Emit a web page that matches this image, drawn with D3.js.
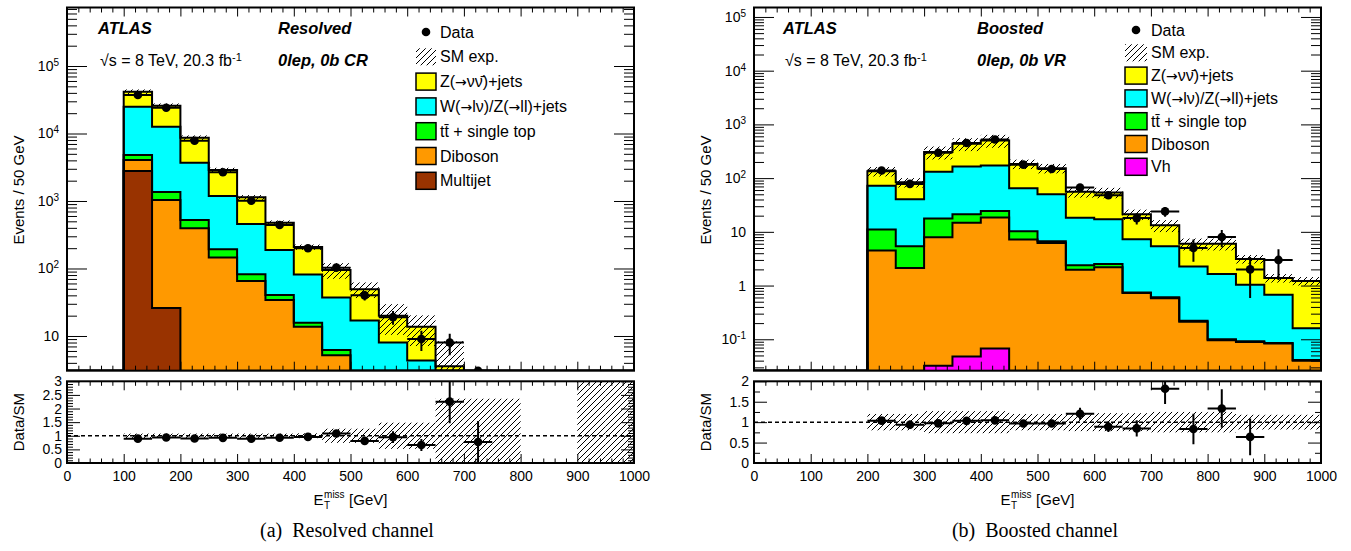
<!DOCTYPE html>
<html>
<head>
<meta charset="utf-8">
<script src="https://cdn.jsdelivr.net/npm/d3@7"></script>
<style>
  body { margin: 0; background: #fff; }
  svg { display: block; font-family: "Liberation Sans", Arial, sans-serif; }
  .caption { font-family: "Liberation Serif", "Times New Roman", serif; font-size: 20px; white-space: pre; }
</style>
</head>
<body>
<svg id="chart" width="1351" height="551"></svg>
<script>
// ---- values (events per 50 GeV bin) ----
const binWidth = 50;

// (a) Resolved channel, 0lep 0b CR  -- bin lower edges
const resolvedBins     = [100, 150, 200, 250, 300, 350, 400, 450, 500, 550, 600, 650, 700, 750, 800, 850, 900, 950];
const resolvedMultijet = [2780, 26, 0, 0, 0, 0, 0, 0, 0, 0, 0, 0, 0, 0, 0, 0, 0, 0];
const resolvedDiboson  = [1270, 1010, 394, 146, 65, 34, 13.7, 5.2, 2.6, 1.3, 0.6, 0.3, 0.17, 0.05, 0, 0, 0.004, 0.004];
const resolvedTop      = [750, 325, 129, 46, 17, 6.5, 2.0, 1.0, 0.4, 0.3, 0.15, 0.05, 0.03, 0.01, 0, 0, 0.002, 0.002];
const resolvedWZ       = [20100, 11240, 3177, 994, 374, 147.5, 66, 31, 14, 6.4, 3.6, 1.3, 0.5, 0.2, 0, 0, 0.002, 0.002];
const resolvedZnn      = [16700, 13200, 4970, 1694, 677, 289, 126, 58, 32.3, 12, 9.3, 1.9, 0.6, 0.25, 0, 0, 0.002, 0.002];
const resolvedData     = [37200, 24100, 7820, 2660, 1010, 441, 199, 103, 40, 19, 9, 8, 1, 0, 0, 0, 0, 0];
const resolvedUnc      = [0.08, 0.08, 0.08, 0.08, 0.08, 0.08, 0.09, 0.26, 0.26, 0.48, 0.48, 1.36, 1.36, 1.36, 0, 0, 3, 3];

// (b) Boosted channel, 0lep 0b VR
const boostedBins    = [200, 250, 300, 350, 400, 450, 500, 550, 600, 650, 700, 750, 800, 850, 900, 950];
const boostedVh      = [0.005, 0.005, 0.032, 0.048, 0.067, 0.015, 0.01, 0.005, 0.005, 0.003, 0.003, 0.002, 0.001, 0.001, 0.001, 0.001];
const boostedDiboson = [4.5, 2.12, 7.92, 14.75, 18.33, 7.19, 6.19, 1.97, 2.18, 0.72, 0.58, 0.21, 0.095, 0.088, 0.082, 0.039];
const boostedTop     = [6.6, 3.28, 9.85, 6.4, 6.0, 3.1, 0.5, 0.4, 0.34, 0.02, 0.02, 0.01, 0.004, 0.003, 0.002, 0.001];
const boostedWZ      = [60.9, 35.1, 114.2, 142.8, 146.6, 54.7, 43.6, 16.0, 14.6, 6.5, 4.8, 2.05, 1.54, 0.94, 0.59, 0.12];
const boostedZnn     = [62, 42.9, 173, 272, 332, 119, 102.7, 37.2, 36.9, 14.0, 7.8, 3.73, 4.36, 2.1, 0.71, 1.06];
const boostedData    = [139, 78, 296, 450, 525, 178, 148, 67, 48, 18, 24, 5, 8, 2, 3, 0];
const boostedUnc     = [0.2, 0.2, 0.27, 0.27, 0.27, 0.2, 0.2, 0.22, 0.22, 0.22, 0.25, 0.25, 0.25, 0.18, 0.18, 0.18];

const colors = {
  znn: '#ffff00', wz: '#00ffff', top: '#00ff00', diboson: '#ff9900', multijet: '#993300', vh: '#ff00ff'
};

// ---- layout ----
const MAIN_TOP = 7.5, MAIN_BOT = 370.7, RATIO_TOP = 381.3, RATIO_BOT = 463;

const svg = d3.select('#chart');
const defs = svg.append('defs');
defs.append('pattern')
    .attr('id', 'hatch').attr('patternUnits', 'userSpaceOnUse')
    .attr('width', 6).attr('height', 6)
  .append('path')
    .attr('d', 'M-1,1 l2,-2 M0,6 l6,-6 M5,7 l2,-2')
    .attr('stroke', '#000').attr('stroke-width', 1);

function tickAxis(parent, axis, tx, ty) {
  const a = parent.append('g').attr('transform', `translate(${tx},${ty})`).call(axis);
  a.select('.domain').remove();
  a.attr('font-family', null).attr('font-size', null);
  a.selectAll('.tick line').attr('stroke-width', 1);
  return a;
}

// write a label, putting arrows in a font with a proper wide arrow
function richText(sel, label) {
  label.split('\u2192').forEach((part, i) => {
    if (i > 0) sel.append('tspan').attr('font-family', '"DejaVu Sans"').attr('font-size', 14).text('\u2192');
    sel.append('tspan').text(part);
  });
}

function drawPanel(p) {
  const x = d3.scaleLinear([0, 1000], [p.left, p.right]);
  const y = d3.scaleLog(p.yDomain, [MAIN_BOT, MAIN_TOP]).clamp(true);
  const yr = d3.scaleLinear(p.ratioDomain, [RATIO_BOT, RATIO_TOP]).clamp(true);
  const floor = p.yDomain[0] * 0.1;
  const g = svg.append('g');

  defs.append('clipPath').attr('id', 'cm' + p.id).append('rect')
      .attr('x', p.left).attr('y', MAIN_TOP).attr('width', p.right - p.left).attr('height', MAIN_BOT - MAIN_TOP);
  defs.append('clipPath').attr('id', 'cr' + p.id).append('rect')
      .attr('x', p.left).attr('y', RATIO_TOP).attr('width', p.right - p.left).attr('height', RATIO_BOT - RATIO_TOP);

  // stacked histogram
  const rows = p.bins.map((b, i) => {
    const r = { low: b };
    p.layers.forEach(l => r[l.key] = l.values[i]);
    return r;
  });
  const stacked = d3.stack().keys(p.layers.map(l => l.key))(rows);
  const totals = rows.map(r => d3.sum(p.layers, l => r[l.key]));

  const area = d3.area()
      .x(d => x(d.x))
      .y0(d => y(Math.max(d.y0, floor)))
      .y1(d => y(Math.max(d.y1, floor)));
  const line = d3.line().x(d => x(d.x)).y(d => y(Math.max(d.y, floor)));

  const gm = g.append('g').attr('clip-path', `url(#cm${p.id})`);
  stacked.forEach((s, li) => {
    const pts = s.flatMap(d => [
      { x: d.data.low, y0: d[0], y1: d[1] },
      { x: d.data.low + binWidth, y0: d[0], y1: d[1] }
    ]);
    gm.append('path').attr('d', area(pts)).attr('fill', p.layers[li].color);
  });
  stacked.forEach(s => {
    const last = s[s.length - 1].data.low + binWidth;
    const pts = [{ x: 0, y: 0 }, { x: s[0].data.low, y: 0 }]
      .concat(s.flatMap(d => [{ x: d.data.low, y: d[1] }, { x: d.data.low + binWidth, y: d[1] }]))
      .concat([{ x: last, y: 0 }]);
    gm.append('path').attr('d', line(pts))
      .attr('fill', 'none').attr('stroke', '#000').attr('stroke-width', 2);
  });

  // SM uncertainty band
  const bins = rows.map((r, i) => ({
    low: r.low, c: r.low + binWidth / 2, tot: totals[i], unc: p.unc[i], n: p.data[i]
  }));
  const band = bins.filter(d => d.unc > 0 && d.tot > 0);
  gm.selectAll('rect.band').data(band).join('rect')
      .attr('class', 'band')
      .attr('x', d => x(d.low)).attr('width', x(binWidth) - x(0))
      .attr('y', d => y(d.tot * (1 + d.unc)))
      .attr('height', d => y(Math.max(d.tot * (1 - d.unc), floor)) - y(d.tot * (1 + d.unc)))
      .attr('fill', 'url(#hatch)');

  // data points
  const pts = bins.filter(d => d.n > 0);
  const dg = gm.append('g').attr('stroke', '#000').attr('stroke-width', 2);
  dg.selectAll('line.xe').data(pts).join('line')
      .attr('x1', d => x(d.c - binWidth / 2)).attr('x2', d => x(d.c + binWidth / 2))
      .attr('y1', d => y(d.n)).attr('y2', d => y(d.n));
  dg.selectAll('line.ye').data(pts).join('line')
      .attr('x1', d => x(d.c)).attr('x2', d => x(d.c))
      .attr('y1', d => y(d.n + Math.sqrt(d.n)))
      .attr('y2', d => y(Math.max(d.n - Math.sqrt(d.n), floor)));
  gm.selectAll('circle.dp').data(pts).join('circle')
      .attr('cx', d => x(d.c)).attr('cy', d => y(d.n)).attr('r', 4.3).attr('fill', '#000');

  // ratio panel
  const gr = g.append('g').attr('clip-path', `url(#cr${p.id})`);
  gr.selectAll('rect.rband').data(band).join('rect')
      .attr('x', d => x(d.low)).attr('width', x(binWidth) - x(0))
      .attr('y', d => yr(1 + d.unc))
      .attr('height', d => yr(Math.max(1 - d.unc, 0)) - yr(1 + d.unc))
      .attr('fill', 'url(#hatch)');
  gr.append('line')
      .attr('x1', x(0)).attr('x2', x(1000)).attr('y1', yr(1)).attr('y2', yr(1))
      .attr('stroke', '#000').attr('stroke-width', 1.5).attr('stroke-dasharray', '4,3');
  const rpts = bins.filter(d => d.n > 0 && d.tot > 0)
      .map(d => ({ c: d.c, r: d.n / d.tot, e: Math.sqrt(d.n) / d.tot }))
      .filter(d => d.r >= p.ratioDomain[0] && d.r <= p.ratioDomain[1]);
  const rg = gr.append('g').attr('stroke', '#000').attr('stroke-width', 2);
  rg.selectAll('line.xe').data(rpts).join('line')
      .attr('x1', d => x(d.c - binWidth / 2)).attr('x2', d => x(d.c + binWidth / 2))
      .attr('y1', d => yr(d.r)).attr('y2', d => yr(d.r));
  rg.selectAll('line.ye').data(rpts).join('line')
      .attr('x1', d => x(d.c)).attr('x2', d => x(d.c))
      .attr('y1', d => yr(d.r + d.e)).attr('y2', d => yr(Math.max(d.r - d.e, 0)));
  gr.selectAll('circle.rp').data(rpts).join('circle')
      .attr('cx', d => x(d.c)).attr('cy', d => yr(d.r)).attr('r', 4.3).attr('fill', '#000');

  // frames
  [[MAIN_TOP, MAIN_BOT], [RATIO_TOP, RATIO_BOT]].forEach(([t, b]) => {
    g.append('rect').attr('x', p.left).attr('y', t)
        .attr('width', p.right - p.left).attr('height', b - t)
        .attr('fill', 'none').attr('stroke', '#000').attr('stroke-width', 2);
  });

  // x ticks
  const xMajor = d3.range(0, 1001, 100);
  const xMinor = d3.range(0, 1001, 20).filter(v => v % 100 !== 0);
  [[MAIN_TOP, MAIN_BOT, 9, 5], [RATIO_TOP, RATIO_BOT, 9, 4.5]].forEach(([t, b, big, small]) => {
    tickAxis(g, d3.axisTop(x).tickValues(xMajor).tickSize(-big).tickFormat(''), 0, t);
    tickAxis(g, d3.axisTop(x).tickValues(xMinor).tickSize(-small).tickFormat(''), 0, t);
    tickAxis(g, d3.axisBottom(x).tickValues(xMinor).tickSize(-small).tickFormat(''), 0, b);
  });
  tickAxis(g, d3.axisBottom(x).tickValues(xMajor).tickSize(-9).tickFormat(''), 0, MAIN_BOT);
  tickAxis(g, d3.axisBottom(x).tickValues(xMajor).tickSize(-9).tickPadding(8).tickFormat(d3.format('d')), 0, RATIO_BOT)
      .selectAll('text').attr('font-size', 14).attr('fill', '#000');

  // log y ticks
  const e0 = Math.ceil(Math.log10(p.yDomain[0])), e1 = Math.floor(Math.log10(p.yDomain[1]));
  const decades = d3.range(e0, e1 + 1).map(e => Math.pow(10, e));
  const minors = [];
  d3.range(e0 - 1, e1 + 1).forEach(e => {
    for (let k = 2; k <= 9; k++) {
      const v = k * Math.pow(10, e);
      if (v >= p.yDomain[0] && v <= p.yDomain[1]) minors.push(v);
    }
  });
  const ly = tickAxis(g, d3.axisLeft(y).tickValues(decades).tickSize(-20).tickPadding(8), p.left, 0);
  ly.selectAll('text').attr('font-size', 14).attr('fill', '#000').each(function (d) {
    const e = Math.round(Math.log10(d));
    const t = d3.select(this).text(e === 0 ? '1' : '10');
    if (e < 0 || e > 1) t.append('tspan').attr('dy', '-0.5em').attr('font-size', 10).text(e);
  });
  tickAxis(g, d3.axisLeft(y).tickValues(minors).tickSize(-10).tickFormat(''), p.left, 0);
  tickAxis(g, d3.axisRight(y).tickValues(decades).tickSize(-20).tickFormat(''), p.right, 0);
  tickAxis(g, d3.axisRight(y).tickValues(minors).tickSize(-10).tickFormat(''), p.right, 0);

  // ratio y ticks
  const rMajor = d3.range(p.ratioDomain[0], p.ratioDomain[1] + 0.01, 0.5);
  const rMinor = d3.range(p.ratioDomain[0], p.ratioDomain[1] + 0.01, p.ratioMinor)
      .filter(v => Math.abs(v / 0.5 - Math.round(v / 0.5)) > 1e-6);
  tickAxis(g, d3.axisLeft(yr).tickValues(rMajor).tickSize(-13).tickPadding(5).tickFormat(d3.format('~g')), p.left, 0)
      .selectAll('text').attr('font-size', 14).attr('fill', '#000');
  tickAxis(g, d3.axisLeft(yr).tickValues(rMinor).tickSize(-6).tickFormat(''), p.left, 0);
  tickAxis(g, d3.axisRight(yr).tickValues(rMajor).tickSize(-13).tickFormat(''), p.right, 0);
  tickAxis(g, d3.axisRight(yr).tickValues(rMinor).tickSize(-6).tickFormat(''), p.right, 0);

  // axis titles
  g.append('text').attr('transform', `translate(${p.left - 43},190) rotate(-90)`)
      .attr('text-anchor', 'middle').attr('font-size', 15).text('Events / 50 GeV');
  g.append('text').attr('transform', `translate(${p.left - 43},${(RATIO_TOP + RATIO_BOT) / 2}) rotate(-90)`)
      .attr('text-anchor', 'middle').attr('font-size', 15).text('Data/SM');

  const xt = g.append('g');
  const yb = 505;
  const tE = xt.append('text').attr('y', yb).attr('font-size', 15).text('E');
  const wE = tE.node().getComputedTextLength();
  xt.append('text').attr('x', wE + 0.5).attr('y', yb + 4).attr('font-size', 10).text('T');
  const tm = xt.append('text').attr('x', wE + 0.5).attr('y', yb - 7).attr('font-size', 10).text('miss');
  const wm = tm.node().getComputedTextLength();
  const tg = xt.append('text').attr('x', wE + wm + 5).attr('y', yb).attr('font-size', 15).text('[GeV]');
  const wAll = wE + wm + 5 + tg.node().getComputedTextLength();
  xt.attr('transform', `translate(${(p.left + p.right) / 2 - wAll / 2},0)`);

  // labels in the plot
  const bi = 'font-weight:bold;font-style:italic';
  g.append('text').attr('x', p.atlasX).attr('y', 34).attr('font-size', 16.5).attr('style', bi).text('ATLAS');
  g.append('text').attr('x', p.regionX).attr('y', 34).attr('font-size', 16.5).attr('style', bi).text(p.channel);
  g.append('text').attr('x', p.regionX).attr('y', 66).attr('font-size', 16.5).attr('style', bi).text(p.region);
  const lumi = g.append('text').attr('x', p.atlasX + 2).attr('y', 66).attr('font-size', 16);
  lumi.append('tspan').text('\u221As = 8 TeV, 20.3 fb');
  lumi.append('tspan').attr('dy', '-0.45em').attr('font-size', 11).text('-1');

  // legend
  const lg = g.append('g');
  const lx = p.legend.x, lw = p.legend.w, lh = 17;
  const items = [{ label: 'Data', kind: 'data' }, { label: 'SM exp.', kind: 'band' }]
      .concat(p.layers.slice().reverse().map(l => ({ label: l.label, kind: 'fill', color: l.color })));
  items.forEach((it, i) => {
    const cy = p.legend.y0 + i * p.legend.dy;
    if (it.kind === 'data') {
      lg.append('circle').attr('cx', lx + lw / 2).attr('cy', cy).attr('r', 4.3).attr('fill', '#000');
    } else if (it.kind === 'band') {
      lg.append('rect').attr('x', lx).attr('y', cy - lh / 2).attr('width', lw).attr('height', lh)
          .attr('fill', 'url(#hatch)');
    } else {
      lg.append('rect').attr('x', lx).attr('y', cy - lh / 2).attr('width', lw).attr('height', lh)
          .attr('fill', it.color).attr('stroke', '#000').attr('stroke-width', 1.5);
    }
    const t = lg.append('text').attr('x', lx + lw + 4).attr('y', cy + 5.5).attr('font-size', 16);
    richText(t, it.label);
  });

  // caption
  svg.append('text').attr('class', 'caption').attr('x', p.captionX).attr('y', 537)
      .attr('text-anchor', 'middle').text(p.caption);
}

const labZ = 'Z(\u2192\u03bd\u03bd\u0304)+jets';
const labW = 'W(\u2192l\u03bd)/Z(\u2192ll)+jets';
const labT = 'tt\u0304 + single top';

drawPanel({
  id: 'a', left: 67, right: 634,
  yDomain: [3.06, 7.36e5], ratioDomain: [0, 3], ratioMinor: 0.1,
  bins: resolvedBins, data: resolvedData, unc: resolvedUnc,
  layers: [
    { key: 'multijet', values: resolvedMultijet, color: colors.multijet, label: 'Multijet' },
    { key: 'diboson', values: resolvedDiboson, color: colors.diboson, label: 'Diboson' },
    { key: 'top', values: resolvedTop, color: colors.top, label: labT },
    { key: 'wz', values: resolvedWZ, color: colors.wz, label: labW },
    { key: 'znn', values: resolvedZnn, color: colors.znn, label: labZ }
  ],
  legend: { x: 416, w: 20, y0: 32, dy: 24.8 },
  atlasX: 98, regionX: 278, channel: 'Resolved', region: '0lep, 0b CR',
  caption: '(a)  Resolved channel', captionX: 347
});

drawPanel({
  id: 'b', left: 754, right: 1321,
  yDomain: [0.026, 1.5e5], ratioDomain: [0, 2], ratioMinor: 0.25,
  bins: boostedBins, data: boostedData, unc: boostedUnc,
  layers: [
    { key: 'vh', values: boostedVh, color: colors.vh, label: 'Vh' },
    { key: 'diboson', values: boostedDiboson, color: colors.diboson, label: 'Diboson' },
    { key: 'top', values: boostedTop, color: colors.top, label: labT },
    { key: 'wz', values: boostedWZ, color: colors.wz, label: labW },
    { key: 'znn', values: boostedZnn, color: colors.znn, label: labZ }
  ],
  legend: { x: 1125, w: 22, y0: 30, dy: 22.8 },
  atlasX: 783, regionX: 977, channel: 'Boosted', region: '0lep, 0b VR',
  caption: '(b)  Boosted channel', captionX: 1035
});
</script>
</body>
</html>
